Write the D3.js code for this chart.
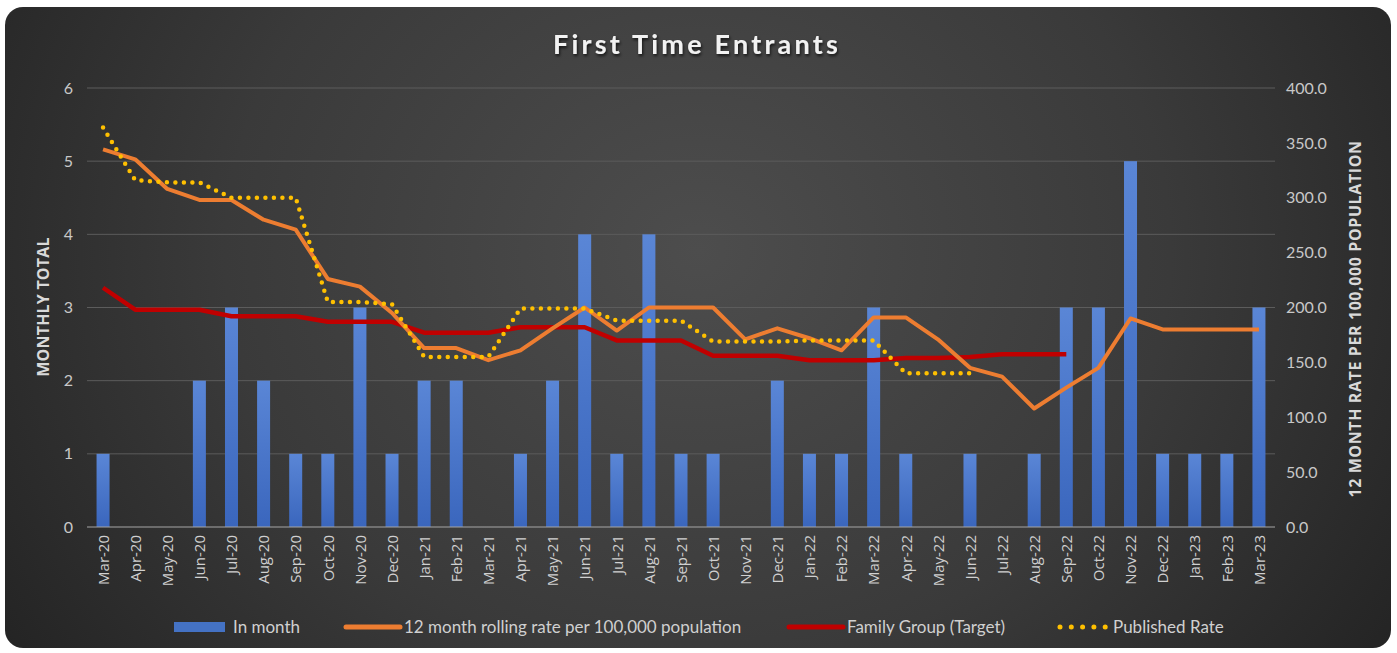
<!DOCTYPE html>
<html>
<head>
	<meta charset="utf-8">
	<title>First Time Entrants</title>
	<script type="text/javascript" src="https://cdn.jsdelivr.net/npm/d3@7"></script>
	<style type="text/css">
		body{margin:0;background:#fff;}
	</style>
</head>
<body>
	<script type="text/javascript">
		var width=1397,
			height=653;
		// months Mar-20 .. Mar-23
		var months=["Mar-20","Apr-20","May-20","Jun-20","Jul-20","Aug-20","Sep-20","Oct-20","Nov-20","Dec-20",
			"Jan-21","Feb-21","Mar-21","Apr-21","May-21","Jun-21","Jul-21","Aug-21","Sep-21","Oct-21","Nov-21","Dec-21",
			"Jan-22","Feb-22","Mar-22","Apr-22","May-22","Jun-22","Jul-22","Aug-22","Sep-22","Oct-22","Nov-22","Dec-22",
			"Jan-23","Feb-23","Mar-23"];
		var inMonth=[1,0,0,2,3,2,1,1,3,1, 2,2,0,1,2,4,1,4,1,1,0,2, 1,1,3,1,0,1,0,1,3,3,5,1, 1,1,3];
		var rolling=[344,335,308,298,298,280,271,226,219,195, 163,163,152,161,181,200,179,200,200,200,171,181,
			172,161,191,191,171,145,137,108,127,145,190,180, 180,180,180];
		var target=[218,198,198,198,192,192,192,187,187,187, 177,177,177,182,182,182,170,170,170,156,156,156,
			152,152,152,154,154,155,157.5,157.5,157.5];
		var published=[364,316,314,314,300,300,300,205,205,203, 155,155,155,199,199,199,188,188,188,169,169,169,
			170,170,170,140,140,140];
		var leftTicks=[0,1,2,3,4,5,6];
		var rightTicks=[0,50,100,150,200,250,300,350,400];

		var pLeft=87, pRight=1275, pTop=88, pBottom=527;

		var svg=d3.select("body").append("svg")
			.attr("width", width)
			.attr("height", height);
		var defs=svg.append("defs");
		var bg=defs.append("radialGradient").attr("id","bg")
			.attr("cx","50%").attr("cy","38%").attr("r","62%")
			.attr("gradientTransform","translate(0.5,0.38) scale(1,1.9) translate(-0.5,-0.38)");
		bg.append("stop").attr("offset","0%").attr("stop-color","#4d4d4d");
		bg.append("stop").attr("offset","55%").attr("stop-color","#3a3a3a");
		bg.append("stop").attr("offset","100%").attr("stop-color","#222222");
		var barG=defs.append("linearGradient").attr("id","barG")
			.attr("x1",0).attr("y1",0).attr("x2",0).attr("y2",1);
		barG.append("stop").attr("offset","0%").attr("stop-color","#5a86d6");
		barG.append("stop").attr("offset","100%").attr("stop-color","#3a66bd");
		var shadow=defs.append("filter").attr("id","shadow")
			.attr("x","-10%").attr("y","-30%").attr("width","120%").attr("height","160%");
		shadow.append("feDropShadow").attr("dx",1).attr("dy",2).attr("stdDeviation",1.5)
			.attr("flood-color","#000").attr("flood-opacity",0.7);

		svg.append("rect")
			.attr("x",5).attr("y",7)
			.attr("width",1386).attr("height",641)
			.attr("rx",18).attr("ry",18)
			.attr("fill","url(#bg)");

		svg.append("text")
			.attr("x",697).attr("y",54)
			.attr("text-anchor","middle")
			.attr("font-family","Lato, 'Open Sans', sans-serif")
			.attr("font-weight","bold")
			.attr("font-size",27)
			.attr("letter-spacing","3.2px")
			.attr("fill","#f2f2f2")
			.attr("filter","url(#shadow)")
			.text("First Time Entrants");

		var xp=d3.scalePoint().domain(months).range([pLeft,pRight]).padding(0.5);
		var yL=d3.scaleLinear().domain([0,6]).range([pBottom,pTop]);
		var yR=d3.scaleLinear().domain([0,400]).range([pBottom,pTop]);

		// gridlines
		svg.append("g").selectAll("line")
			.data(leftTicks.slice(1))
			.enter().append("line")
			.attr("x1",pLeft).attr("x2",pRight)
			.attr("y1",function (d) {return yL(d);})
			.attr("y2",function (d) {return yL(d);})
			.attr("stroke","#5c5c5c")
			.attr("stroke-width",1);

		// bars
		svg.append("g").selectAll("rect")
			.data(inMonth)
			.enter().append("rect")
			.attr("x",function (d,i) {return xp(months[i])-6.5;})
			.attr("width",13)
			.attr("y",function (d) {return yL(d);})
			.attr("height",function (d) {return pBottom-yL(d);})
			.attr("fill","url(#barG)");

		svg.append("line")
			.attr("x1",pLeft).attr("x2",pRight)
			.attr("y1",pBottom).attr("y2",pBottom)
			.attr("stroke","#a6a6a6").attr("stroke-width",1.2);

		var line=d3.line()
			.x(function (d,i) {return xp(months[i]);})
			.y(function (d) {return yR(d);});

		svg.append("path").datum(target)
			.attr("d",line).attr("fill","none")
			.attr("stroke","#c00000").attr("stroke-width",4.5)
			.attr("stroke-linejoin","round");
		svg.append("path").datum(rolling)
			.attr("d",line).attr("fill","none")
			.attr("stroke","#ed7d31").attr("stroke-width",4)
			.attr("stroke-linejoin","round");
		svg.append("path").datum(published)
			.attr("d",line).attr("fill","none")
			.attr("stroke","#ffc000").attr("stroke-width",4.5)
			.attr("stroke-dasharray","0 8.5")
			.attr("stroke-linecap","round");

		// axes
		var axL=svg.append("g").attr("transform","translate("+(pLeft-14)+",0)")
			.call(d3.axisLeft(yL).tickValues(leftTicks).tickSize(0).tickPadding(0)
				.tickFormat(d3.format("d")));
		var axR=svg.append("g").attr("transform","translate("+(pRight+11)+",0)")
			.call(d3.axisRight(yR).tickValues(rightTicks).tickSize(0).tickPadding(0)
				.tickFormat(d3.format(".1f")));
		[axL,axR].forEach(function (a) {
			a.select(".domain").remove();
			a.selectAll("text")
				.attr("font-family","Lato, sans-serif")
				.attr("font-size",16)
				.attr("fill","#c8c8c8");
		});

		var axX=svg.append("g").attr("transform","translate(0,"+(pBottom+8)+")")
			.call(d3.axisBottom(xp).tickSize(0).tickPadding(0));
		axX.select(".domain").remove();
		axX.selectAll("text")
			.attr("font-family","'Open Sans', sans-serif")
			.attr("font-size",15)
			.attr("fill","#d0d0d0")
			.attr("transform","rotate(-90)")
			.attr("text-anchor","end")
			.attr("dy","0.35em")
			.attr("x",0).attr("y",0);

		svg.append("text")
			.attr("transform","translate(49,307) rotate(-90)")
			.attr("text-anchor","middle")
			.attr("font-family","'Open Sans', sans-serif")
			.attr("font-weight","bold")
			.attr("font-size",16)
			.attr("letter-spacing","0.2px")
			.attr("fill","#d9d9d9")
			.text("MONTHLY TOTAL");
		svg.append("text")
			.attr("transform","translate(1361,319) rotate(-90)")
			.attr("text-anchor","middle")
			.attr("font-family","'Open Sans', sans-serif")
			.attr("font-weight","bold")
			.attr("font-size",16)
			.attr("letter-spacing","0.6px")
			.attr("fill","#d9d9d9")
			.text("12 MONTH RATE PER 100,000 POPULATION");

		// legend
		var legend=[
			{name:"In month", x:174, type:"bar", color:"#4472c4"},
			{name:"12 month rolling rate per 100,000 population", x:346, type:"line", color:"#ed7d31"},
			{name:"Family Group (Target)", x:789, type:"line", color:"#c00000"},
			{name:"Published Rate", x:1058, type:"dot", color:"#ffc000"}
		];
		var lg=svg.append("g").selectAll("g").data(legend).enter().append("g");
		lg.each(function (d) {
			var g=d3.select(this);
			if(d.type=="bar")
				g.append("rect").attr("x",d.x).attr("y",622).attr("width",51).attr("height",10).attr("fill",d.color);
			else if(d.type=="line")
				g.append("line").attr("x1",d.x).attr("x2",d.x+54).attr("y1",627).attr("y2",627)
					.attr("stroke",d.color).attr("stroke-width",5).attr("stroke-linecap","round");
			else
				g.append("line").attr("x1",d.x+2).attr("x2",d.x+48).attr("y1",627).attr("y2",627)
					.attr("stroke",d.color).attr("stroke-width",5).attr("stroke-linecap","round")
					.attr("stroke-dasharray","0 11.3");
			var tx=d.type=="bar"?d.x+59:(d.type=="dot"?d.x+55:d.x+58);
			g.append("text").attr("x",tx).attr("y",633)
				.attr("font-family","Lato, sans-serif")
				.attr("font-size",17)
				.attr("fill","#d0d0d0")
				.text(d.name);
		});
	</script>
</body>
</html>
